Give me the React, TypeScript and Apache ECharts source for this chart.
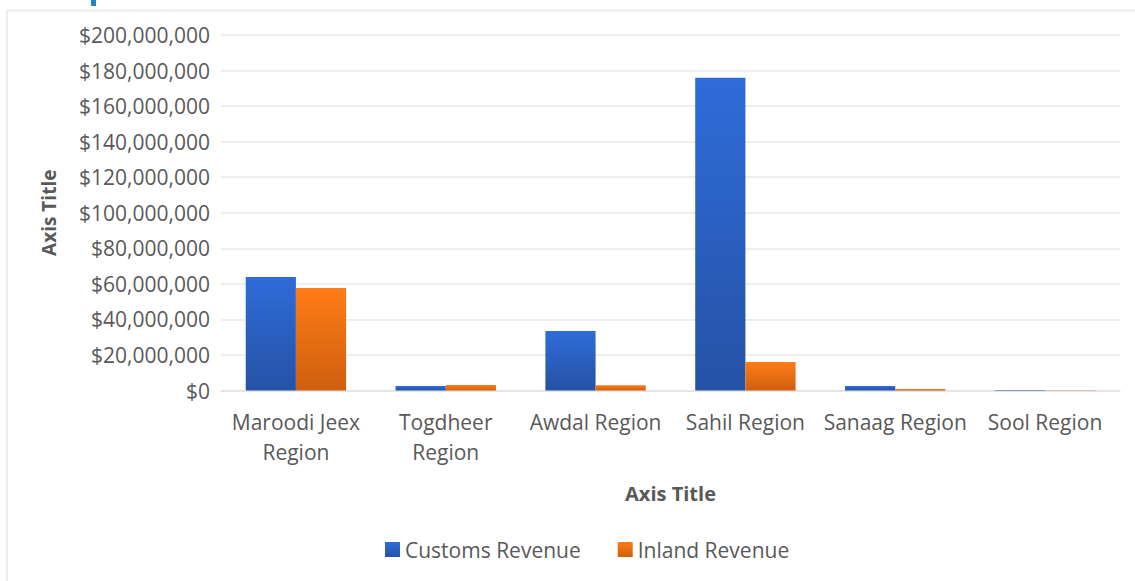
import React, { useEffect, useRef } from "react";
import * as echarts from "echarts";

const categories = ["Maroodi Jeex\nRegion", "Togdheer\nRegion", "Awdal Region", "Sahil Region", "Sanaag Region", "Sool Region"];
const customsRevenue = [63800000, 2500000, 33500000, 176000000, 2500000, 300000];
const inlandRevenue = [57600000, 3100000, 3000000, 16000000, 800000, 200000];
const seriesNames = ["Customs Revenue", "Inland Revenue"];

const TEXT = "#595959";
const FONT = "'Open Sans', sans-serif";

export default function App() {
  const ref = useRef<HTMLDivElement>(null);
  useEffect(() => {
    if (!ref.current) return;
    const chart = echarts.init(ref.current, undefined, { renderer: "svg" });
    const grad = (top: string, bottom: string) =>
      new echarts.graphic.LinearGradient(0, 0, 0, 1, [
        { offset: 0, color: top },
        { offset: 1, color: bottom },
      ]);
    chart.setOption({
      animation: false,
      backgroundColor: "#ffffff",
      textStyle: { fontFamily: FONT },
      graphic: [
        { type: "line", shape: { x1: 7, y1: 10.5, x2: 1135, y2: 10.5 }, style: { stroke: "#ececec", lineWidth: 2 } },
        { type: "line", shape: { x1: 7, y1: 10, x2: 7, y2: 581 }, style: { stroke: "#ececec", lineWidth: 2 } },
        { type: "rect", shape: { x: 91, y: 0, width: 5, height: 6 }, style: { fill: "#1c86c4" } },
      ],
      grid: { left: 221, right: 15, top: 35, bottom: 190.5, containLabel: false },
      legend: {
        data: seriesNames,
        bottom: 16,
        left: 380,
        itemWidth: 15,
        itemHeight: 15,
        itemGap: 37,
        icon: "rect",
        textStyle: { color: TEXT, fontSize: 21, fontFamily: FONT },
      },
      xAxis: {
        type: "category",
        data: categories,
        name: "Axis Title",
        nameLocation: "middle",
        nameGap: 93,
        nameTextStyle: { color: TEXT, fontSize: 20, fontWeight: "bold", fontFamily: FONT },
        axisLine: { show: true, lineStyle: { color: "#e2e2e2", width: 1.5 } },
        axisTick: { show: false },
        axisLabel: { color: TEXT, fontSize: 21, lineHeight: 30, margin: 16, interval: 0, fontFamily: FONT },
      },
      yAxis: {
        type: "value",
        min: 0,
        max: 200000000,
        interval: 20000000,
        name: "Axis Title",
        nameLocation: "middle",
        nameGap: 163,
        nameRotate: 90,
        nameTextStyle: { color: TEXT, fontSize: 19, fontWeight: "bold", fontFamily: FONT },
        axisLine: { show: false },
        axisTick: { show: false },
        splitLine: { lineStyle: { color: "#e8e8e8", width: 1.5 } },
        axisLabel: {
          color: TEXT,
          fontSize: 21,
          margin: 11,
          fontFamily: FONT,
          formatter: (v: number) => "$" + v.toLocaleString("en-US"),
        },
      },
      series: [
        {
          name: seriesNames[0],
          type: "bar",
          data: customsRevenue,
          barGap: "0%",
          barCategoryGap: "33%",
          itemStyle: { color: grad("#2f6cd9", "#2552a5") },
        },
        {
          name: seriesNames[1],
          type: "bar",
          data: inlandRevenue,
          barGap: "0%",
          barCategoryGap: "33%",
          itemStyle: { color: grad("#ff7c16", "#cf5f10") },
        },
      ],
    });
    return () => chart.dispose();
  }, []);
  return <div ref={ref} style={{ position: "absolute", left: 0, top: 0, width: 1135, height: 581 }} />;
}
